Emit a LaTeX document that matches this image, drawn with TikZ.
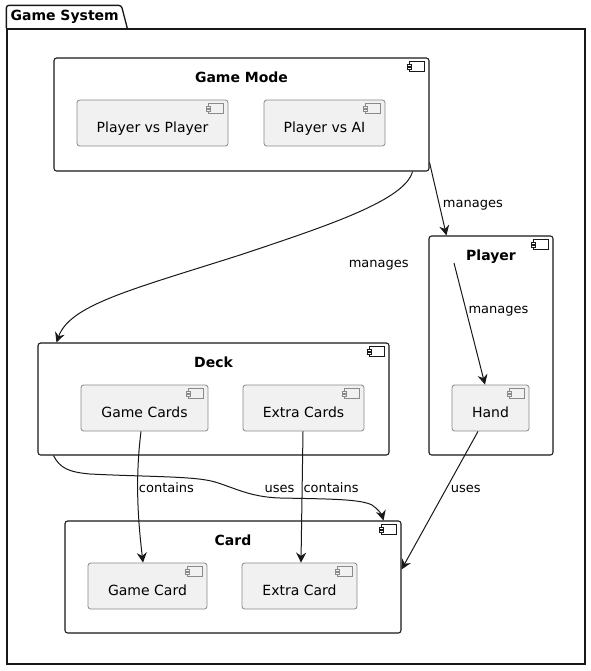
\documentclass[tikz,border=0pt]{standalone}
\usepackage{fontspec}
\setmainfont{DejaVu Sans}
\usepackage{tikz}
\usetikzlibrary{arrows.meta}
\usepackage{xcolor}

\definecolor{compfill}{HTML}{F1F1F1}
\definecolor{compline}{HTML}{8A8A8A}
\definecolor{umlline}{HTML}{181818}

\begin{document}
\begin{tikzpicture}[x=0.75pt, y=-0.75pt,
    pkgbox/.style={draw=umlline, line width=1pt, inner sep=0pt},
    bigbox/.style={draw=umlline, fill=white, line width=0.8pt, rounded corners=2pt, inner sep=0pt},
    comp/.style={draw=compline, fill=compfill, line width=0.6pt, rounded corners=2pt, inner sep=0pt,
        minimum height=46*\pxw, text height=19*\pxw, text depth=0pt, font=\fontsize{10.5}{12}\selectfont},
    title/.style={font=\bfseries\fontsize{10.5}{12}\selectfont, anchor=base, inner sep=0pt},
    lbl/.style={font=\fontsize{9.75}{11}\selectfont, anchor=base west, inner sep=0pt},
    flow/.style={draw=umlline, line width=0.75pt, -{Stealth[length=7.5pt, width=7.5pt, inset=2.5pt]}}]
    \newcommand\pxw{0.75pt}
    \newcommand\compicon[3]{%
        \draw[#2, line width=0.6pt] ([shift={(-20,4)}]#1.north east) rectangle ([shift={(-5,14)}]#1.north east);
        \draw[#2, fill=#3, line width=0.6pt] ([shift={(-22,6.5)}]#1.north east) rectangle ([shift={(-18,8.5)}]#1.north east);
        \draw[#2, fill=#3, line width=0.6pt] ([shift={(-22,10)}]#1.north east) rectangle ([shift={(-18,12)}]#1.north east);
    }

    \useasboundingbox (0,0) rectangle (591,671);

    % package
    \node[pkgbox, minimum width=578*\pxw, minimum height=635*\pxw] (gamesystem) at (296,346.5) {};
    \draw[umlline, line width=1pt, rounded corners=2pt] (gamesystem.north west) -- ++(0,-23) -- ++(115,0) -- ([xshift=121*\pxw]gamesystem.north west);
    \node[title, anchor=base west] (sysTitle) at ([shift={(4,-8)}]gamesystem.north west) {Game System};

    % game mode
    \node[bigbox, minimum width=375*\pxw, minimum height=113*\pxw] (gamemode) at (241.5,114.5) {};
    \compicon{gamemode}{umlline}{white}
    \node[title] (gamemodeTitle) at ([yshift=-25*\pxw]gamemode.north) {Game Mode};
    \node[comp, minimum width=151*\pxw] (pvp) at (152.5,123) {Player vs Player};
    \compicon{pvp}{compline}{compfill}
    \node[comp, minimum width=121*\pxw] (pvai) at (324.5,123) {Player vs AI};
    \compicon{pvai}{compline}{compfill}

    % player
    \node[bigbox, minimum width=124*\pxw, minimum height=219*\pxw] (player) at (491,345.5) {};
    \compicon{player}{umlline}{white}
    \node[title] (playerTitle) at ([yshift=-25*\pxw]player.north) {Player};
    \node[comp, minimum width=77*\pxw] (hand) at (490.5,408) {Hand};
    \compicon{hand}{compline}{compfill}

    % deck
    \node[bigbox, minimum width=351*\pxw, minimum height=112*\pxw] (deck) at (213.5,399) {};
    \compicon{deck}{umlline}{white}
    \node[title] (deckTitle) at ([yshift=-25*\pxw]deck.north) {Deck};
    \node[comp, minimum width=127*\pxw] (gamecards) at (144.5,408) {Game Cards};
    \compicon{gamecards}{compline}{compfill}
    \node[comp, minimum width=121*\pxw] (extracards) at (303.5,408) {Extra Cards};
    \compicon{extracards}{compline}{compfill}

    % card
    \node[bigbox, minimum width=336*\pxw, minimum height=112*\pxw] (card) at (233,577) {};
    \compicon{card}{umlline}{white}
    \node[title] (cardTitle) at ([yshift=-25*\pxw]card.north) {Card};
    \node[comp, minimum width=119*\pxw] (gamecard) at (147.5,586) {Game Card};
    \compicon{gamecard}{compline}{compfill}
    \node[comp, minimum width=115*\pxw] (extracard) at (299.5,586) {Extra Card};
    \compicon{extracard}{compline}{compfill}

    % draw arrows
    \draw[flow] ([yshift=9*\pxw]gamemode.south east) -- ([xshift=18*\pxw]player.north west);
    \node[lbl] (lblGmPlayer) at (442.7,207) {manages};

    \draw[flow] ([xshift=-17*\pxw]gamemode.south east) .. controls (405,200) and (330,225) .. (240,255)
        .. controls (130,290) and (70,305) .. ([xshift=19*\pxw]deck.north west);
    \node[lbl] (lblGmDeck) at (348.5,267) {manages};

    \coordinate (playerSrc) at (454,263);
    \draw[flow] (playerSrc) -- ([xshift=-5.5*\pxw]hand.north);
    \node[lbl] (lblPlayerHand) at (468.3,313) {manages};

    \draw[flow] ([xshift=-3.5*\pxw]gamecards.south) .. controls (135,480) and (138,520) .. ([xshift=-4.5*\pxw]gamecard.north);
    \node[lbl] (lblGameCards) at (138.7,492.5) {contains};

    \draw[flow] ([xshift=-0.5*\pxw]extracards.south) -- ([xshift=1.5*\pxw]extracard.north);
    \node[lbl] (lblExtraCards) at (303.3,492.5) {contains};

    \draw[flow] ([xshift=16*\pxw]deck.south west) .. controls (60,468) and (68,472) .. (90,474)
        .. controls (150,477) and (195,476) .. (215,482) .. controls (235,488) and (250,497) .. (280,498)
        .. controls (330,499) and (360,499) .. (372,505) .. controls (378,509) and (382,515) .. ([xshift=-18*\pxw]card.north east);
    \node[lbl] (lblDeckCard) at (264.3,492.5) {uses};

    \draw[flow] ([xshift=-12.5*\pxw]hand.south) -- ([yshift=-49*\pxw]card.north east);
    \node[lbl] (lblHandCard) at (450.7,492.3) {uses};
\end{tikzpicture}
\end{document}
